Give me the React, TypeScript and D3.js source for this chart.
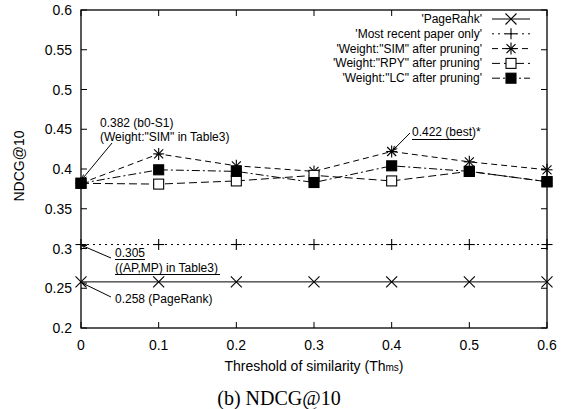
import React from "react";
import * as d3 from "d3";

// Threshold values on the x axis
const thresholds = [0, 0.1, 0.2, 0.3, 0.4, 0.5, 0.6];

// NDCG@10 for each method
const pageRank = [0.258, 0.258, 0.258, 0.258, 0.258, 0.258, 0.258];
const mostRecent = [0.305, 0.305, 0.305, 0.305, 0.305, 0.305, 0.305];
const weightSim = [0.382, 0.419, 0.404, 0.397, 0.422, 0.409, 0.399];
const weightRpy = [0.382, 0.381, 0.385, 0.392, 0.385, 0.397, 0.384];
const weightLc = [0.382, 0.399, 0.397, 0.383, 0.404, 0.397, 0.384];

const seriesNames = [
  "'PageRank'",
  "'Most recent paper only'",
  "'Weight:\"SIM\" after pruning'",
  "'Weight:\"RPY\" after pruning'",
  "'Weight:\"LC\" after pruning'",
];

const xTicks = [0, 0.1, 0.2, 0.3, 0.4, 0.5, 0.6];
const yTicks = [0.2, 0.25, 0.3, 0.35, 0.4, 0.45, 0.5, 0.55, 0.6];

const W = 562;
const H = 409;
const left = 81;
const right = 547;
const top = 10;
const bottom = 328;

const sans = "'Liberation Sans', Arial, Helvetica, sans-serif";

type MarkerKind = "x" | "plus" | "star" | "openSquare" | "filledSquare";

function Marker({ kind, cx, cy }: { kind: MarkerKind; cx: number; cy: number }) {
  const s = 5.5;
  const st = { stroke: "#000", strokeWidth: 1.1, fill: "none" };
  if (kind === "x") {
    return (
      <g {...st}>
        <line x1={cx - s} y1={cy - s} x2={cx + s} y2={cy + s} />
        <line x1={cx - s} y1={cy + s} x2={cx + s} y2={cy - s} />
      </g>
    );
  }
  if (kind === "plus") {
    return (
      <g {...st}>
        <line x1={cx - s} y1={cy} x2={cx + s} y2={cy} />
        <line x1={cx} y1={cy - s} x2={cx} y2={cy + s} />
      </g>
    );
  }
  if (kind === "star") {
    const d = 4.5;
    return (
      <g {...st}>
        <line x1={cx - s} y1={cy} x2={cx + s} y2={cy} />
        <line x1={cx} y1={cy - s - 0.5} x2={cx} y2={cy + s + 0.5} />
        <line x1={cx - d} y1={cy - d} x2={cx + d} y2={cy + d} />
        <line x1={cx - d} y1={cy + d} x2={cx + d} y2={cy - d} />
      </g>
    );
  }
  const h = 5;
  return (
    <rect
      x={cx - h}
      y={cy - h}
      width={2 * h}
      height={2 * h}
      fill={kind === "filledSquare" ? "#000" : "#fff"}
      stroke="#000"
      strokeWidth={1.1}
    />
  );
}

export default function App() {
  const x = d3.scaleLinear().domain([0, 0.6]).range([left, right]);
  const y = d3.scaleLinear().domain([0.2, 0.6]).range([bottom, top]);

  const series: { values: number[]; dash: string; marker: MarkerKind }[] = [
    { values: pageRank, dash: "none", marker: "x" },
    { values: mostRecent, dash: "2,4", marker: "plus" },
    { values: weightSim, dash: "6,4", marker: "star" },
    { values: weightRpy, dash: "8,4", marker: "openSquare" },
    { values: weightLc, dash: "8,3,2,3", marker: "filledSquare" },
  ];

  const line = d3
    .line<number>()
    .x((_, i) => x(thresholds[i]))
    .y((v) => y(v));

  const tickLen = 6;
  const legendY = (i: number) => 19 + i * 14.8;

  const arrow = (x1: number, y1: number, x2: number, y2: number) => {
    const a = Math.atan2(y2 - y1, x2 - x1);
    const L = 5;
    const sp = 0.4;
    const p1 = [x2 - L * Math.cos(a - sp), y2 - L * Math.sin(a - sp)];
    const p2 = [x2 - L * Math.cos(a + sp), y2 - L * Math.sin(a + sp)];
    return (
      <g stroke="#000" strokeWidth={1} fill="none">
        <line x1={x1} y1={y1} x2={x2} y2={y2} />
        <path d={`M${p1[0]},${p1[1]}L${x2},${y2}L${p2[0]},${p2[1]}`} />
      </g>
    );
  };

  return (
    <svg
      width={W}
      height={H}
      style={{ position: "absolute", left: 0, top: 0, background: "#fff" }}
      fontFamily={sans}
    >
      <rect width={W} height={H} fill="#fff" />

      {/* ticks on all four sides */}
      <g stroke="#000" strokeWidth={1}>
        {xTicks.map((t) => (
          <g key={"xt" + t}>
            <line x1={x(t)} x2={x(t)} y1={bottom} y2={bottom - tickLen} />
            <line x1={x(t)} x2={x(t)} y1={top} y2={top + tickLen} />
          </g>
        ))}
        {yTicks.map((t) => (
          <g key={"yt" + t}>
            <line x1={left} x2={left + tickLen} y1={y(t)} y2={y(t)} />
            <line x1={right} x2={right - tickLen} y1={y(t)} y2={y(t)} />
          </g>
        ))}
      </g>

      {/* tick labels */}
      <g fontSize={14} fill="#000">
        {xTicks.map((t) => (
          <text key={"xl" + t} x={x(t)} y={350} textAnchor="middle">
            {d3.format("")(t)}
          </text>
        ))}
        {yTicks.map((t) => (
          <text key={"yl" + t} x={72} y={y(t) + 5} textAnchor="end">
            {d3.format("")(+t.toFixed(2))}
          </text>
        ))}
      </g>

      {/* series lines and markers */}
      {series.map((s, si) => (
        <g key={"s" + si}>
          <path
            d={line(s.values) ?? ""}
            fill="none"
            stroke="#000"
            strokeWidth={1}
            strokeDasharray={s.dash}
          />
          {s.values.map((v, i) => (
            <Marker key={i} kind={s.marker} cx={x(thresholds[i])} cy={y(v)} />
          ))}
        </g>
      ))}

      {/* frame */}
      <rect
        x={left}
        y={top}
        width={right - left}
        height={bottom - top}
        fill="none"
        stroke="#000"
        strokeWidth={1.3}
      />

      {/* legend */}
      <g fontSize={12} fill="#000">
        {series.map((s, i) => (
          <g key={"lg" + i}>
            <text x={482} y={legendY(i) + 4} textAnchor="end">
              {seriesNames[i]}
            </text>
            <line
              x1={492}
              x2={530}
              y1={legendY(i)}
              y2={legendY(i)}
              stroke="#000"
              strokeWidth={1}
              strokeDasharray={s.dash}
            />
            <Marker kind={s.marker} cx={511} cy={legendY(i)} />
          </g>
        ))}
      </g>

      {/* annotations */}
      <g fontSize={12} fill="#000">
        <text x={100} y={127}>0.382 (b0-S1)</text>
        <text x={100} y={141}>(Weight:"SIM" in Table3)</text>
        {arrow(112, 143, x(0) + 1, y(weightSim[0]) - 4)}

        <text x={412} y={136}>0.422 (best)*</text>
        <line x1={412} x2={473} y1={139.5} y2={139.5} stroke="#000" />
        {arrow(410, 133, x(0.4) + 1, y(weightSim[4]) - 1)}

        <text x={115} y={257}>0.305</text>
        <line x1={115} x2={145} y1={259.5} y2={259.5} stroke="#000" />
        <text x={115} y={272}>((AP,MP) in Table3)</text>
        <line x1={115} x2={220} y1={274.5} y2={274.5} stroke="#000" />
        {arrow(111, 258, x(0) + 1, y(mostRecent[0]) + 1)}

        <text x={115} y={303}>0.258 (PageRank)</text>
        {arrow(111, 297, x(0) + 1, y(pageRank[0]) + 1)}
      </g>

      {/* axis titles */}
      <text
        transform={`translate(24,166) rotate(-90)`}
        textAnchor="middle"
        fontSize={14}
        fill="#000"
      >
        NDCG@10
      </text>
      <text x={314} y={371} textAnchor="middle" fontSize={14} fill="#000">
        Threshold of similarity (Th<tspan fontSize={10}>ms</tspan>)
      </text>
      <text
        x={279}
        y={405}
        textAnchor="middle"
        fontSize={20}
        fontFamily="'Liberation Serif', 'Times New Roman', serif"
        fill="#000"
      >
        (b) NDCG@10
      </text>
    </svg>
  );
}
